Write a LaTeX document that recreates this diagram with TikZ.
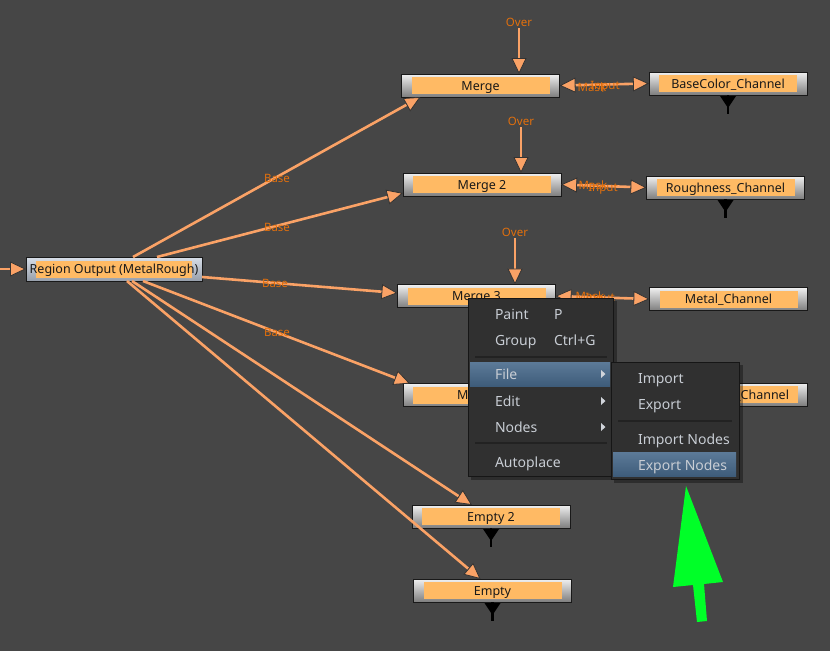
\documentclass[tikz,border=0pt]{standalone}
\usepackage{fontspec}
\setmainfont{Noto Sans}
\usetikzlibrary{arrows.meta,calc}
\definecolor{bgc}{RGB}{70,70,70}
\definecolor{lineor}{RGB}{250,162,102}
\definecolor{lblor}{RGB}{228,112,12}
\definecolor{baror}{RGB}{255,186,100}
\definecolor{boxtop}{RGB}{240,240,240}
\definecolor{boxbot}{RGB}{125,125,125}
\definecolor{rotop}{RGB}{215,222,232}
\definecolor{robot}{RGB}{150,158,170}
\definecolor{menubg}{RGB}{48,48,48}
\definecolor{menuedge}{RGB}{22,22,22}
\definecolor{menusep}{RGB}{34,34,34}
\definecolor{menutxt}{RGB}{200,205,212}
\definecolor{hltop}{RGB}{92,122,152}
\definecolor{hlbot}{RGB}{62,92,122}
\definecolor{arrgreen}{RGB}{0,255,40}
\tikzset{
  ptip/.tip={Triangle[length=16pt,width=15pt,fill=lineor,color=black!80,line width=0.8pt]},
}
\begin{document}
\begin{tikzpicture}[x=1pt,y=-1pt,
  every node/.style={inner sep=0pt,outer sep=0pt},
  mbox/.style={draw=black!90,line width=0.9pt,minimum width=158pt,minimum height=23pt,
    top color=boxtop,bottom color=boxbot,text=black!90,
    font=\fontsize{12.5}{14}\selectfont,text height=9pt,text depth=0pt,
    path picture={\fill[baror] ([xshift=10pt,yshift=3pt]path picture bounding box.south west)
      rectangle ([xshift=-10pt,yshift=-3pt]path picture bounding box.north east);}},
  robox/.style={draw=black!90,line width=0.9pt,minimum width=176pt,minimum height=24pt,
    top color=rotop,bottom color=robot,text=black!90,
    font=\fontsize{12.5}{14}\selectfont,text height=9pt,text depth=0pt,
    path picture={\fill[baror] ([xshift=10pt,yshift=3.5pt]path picture bounding box.south west)
      rectangle ([xshift=-10pt,yshift=-3.5pt]path picture bounding box.north east);}},
  ntext/.style={text=black!90,font=\fontsize{12.5}{14}\selectfont,text height=9pt,text depth=0pt},
  edge/.style={draw=lineor,line width=2.6pt,-{ptip}},
  bothedge/.style={draw=lineor,line width=2.6pt,{ptip}-{ptip}},
  lbl/.style={text=lblor,font=\fontsize{11.5}{13}\selectfont,text height=8pt,text depth=0pt},
  mtxt/.style={text=menutxt,font=\fontsize{14}{16}\selectfont,text height=10pt,text depth=0pt,anchor=west},
  menubox/.style={fill=menubg,draw=menuedge,line width=1pt},
  hlbox/.style={top color=hltop,bottom color=hlbot,draw=none},
  sepline/.style={draw=menusep,line width=1.2pt},
  subarr/.style={fill=menutxt!85},
  outtip/.style={fill=black},
  outstem/.style={draw=black,line width=2.6pt},
]
\fill[bgc] (0,0) rectangle (830,651);
\useasboundingbox (0,0) rectangle (830,651);

% nodes
\node[mbox] (m1) at (480.5,85.5) {Merge};
\node[mbox] (bc) at (728,83.5) {BaseColor\_Channel};
\node[mbox] (m2) at (482,184.5) {Merge 2};
\node[mbox] (rc) at (725.5,187.5) {Roughness\_Channel};
\node[mbox] (m3) at (476.5,296) {Merge 3};
\node[mbox] (mc) at (728.5,299) {Metal\_Channel};
\node[mbox] (m4) at (482,395) {};
\node[ntext,anchor=west] (m4t) at (457,395) {M};
\node[mbox] (c4) at (728.5,394.5) {};
\node[ntext,anchor=east] (c4t) at (789,394.5) {\_Channel};
\node[mbox] (e2) at (491,516.5) {Empty 2};
\node[mbox] (e1) at (492.5,590.5) {Empty};
\node[robox] (ro) at (114,269) {Region Output (MetalRough)};

% input from left
\coordinate (in) at (0,269);
\draw[edge] (in) -- (ro.west);

% base edges
\draw[edge] ([xshift=107pt]ro.north west) -- ([xshift=19pt]m1.south west);
\draw[edge] ([xshift=131pt]ro.north west) -- ([yshift=3pt]m2.south west);
\draw[edge] ([yshift=4pt]ro.south east) -- ([yshift=3pt]m3.west);
\draw[edge] ([xshift=117pt]ro.south west) -- ([xshift=7pt]m4.north west);
\draw[edge] ([xshift=106pt]ro.south west) -- ([xshift=60pt]e2.north west);
\draw[edge] ([xshift=101pt]ro.south west) -- ([xshift=67pt]e1.north west);

\node[lbl] (b1) at (277,178) {Base};
\node[lbl] (b2) at (277,227) {Base};
\node[lbl] (b3) at (275,283) {Base};
\node[lbl] (b4) at (277,332) {Base};

% over edges
\node[lbl] (o1) at (519,22) {Over};
\node[lbl] (o2) at (521,121) {Over};
\node[lbl] (o3) at (515,232) {Over};
\draw[edge] ([yshift=-2pt]o1.south) -- (o1.south |- m1.north);
\draw[edge] ([yshift=-2pt]o2.south) -- (o2.south |- m2.north);
\draw[edge] ([yshift=-2pt]o3.south) -- (o3.south |- m3.north);

% mask / input links
\draw[bothedge] (m1.east) -- (bc.west);
\draw[bothedge] (m2.east) -- (rc.west);
\draw[bothedge] (m3.east) -- (mc.west);
\node[lbl] (k1) at (592,87) {Mask};
\node[lbl] (i1) at (605,85) {Input};
\node[lbl] (k2) at (593,185) {Mask};
\node[lbl] (i2) at (603,187) {Input};
\node[lbl] (k3) at (590,296) {Mask};
\node[lbl] (i3) at (600,297) {Input};

% output stubs
\foreach \n in {bc,rc,e2,e1}{
  \draw[outstem] (\n.south) -- ($(\n.south)+(0,19)$);
  \fill[outtip] ($(\n.south)+(-8,1)$) -- ($(\n.south)+(8,1)$) -- ($(\n.south)+(0,13)$) -- cycle;
}

% context menu
\fill[black,opacity=0.35] (471,301) rectangle (617,480);
\node[menubox,minimum width=145pt,minimum height=178pt] (menu) at (540.5,387) {};
\node[mtxt] (paint) at (495,314) {Paint};
\node[mtxt] (paintk) at (554,314) {P};
\node[mtxt] (group) at (495,340) {Group};
\node[mtxt] (groupk) at (554,340) {Ctrl+G};
\draw[sepline] (475,357) -- (607,357);
\node[hlbox,minimum width=140pt,minimum height=24pt] (filehl) at (540,374) {};
\node[mtxt] (file) at (495,374) {File};
\node[mtxt] (edit) at (495,401) {Edit};
\node[mtxt] (nodes) at (495,427) {Nodes};
\draw[sepline] (475,443) -- (607,443);
\node[mtxt] (autop) at (495,462) {Autoplace};
\foreach \yy in {374,401,427}{
  \fill[subarr] (601,\yy-4) -- (605.5,\yy) -- (601,\yy+4) -- cycle;
}

% submenu
\fill[black,opacity=0.35] (614,365) rectangle (743,483);
\node[menubox,minimum width=128pt,minimum height=117pt] (sub) at (675,420.5) {};
\node[mtxt] (imp) at (638,378) {Import};
\node[mtxt] (exp) at (638,404) {Export};
\draw[sepline] (618,421) -- (732,421);
\node[mtxt] (impn) at (638,439) {Import Nodes};
\node[hlbox,minimum width=123pt,minimum height=24pt] (exphl) at (674.5,464) {};
\node[mtxt] (expn) at (638,465) {Export Nodes};

% green arrow
\fill[arrgreen] (686,486) -- (723,582) -- (704,584) -- (707,621) -- (697,622)
  -- (693,585) -- (673,587) -- cycle;
\end{tikzpicture}
\end{document}
